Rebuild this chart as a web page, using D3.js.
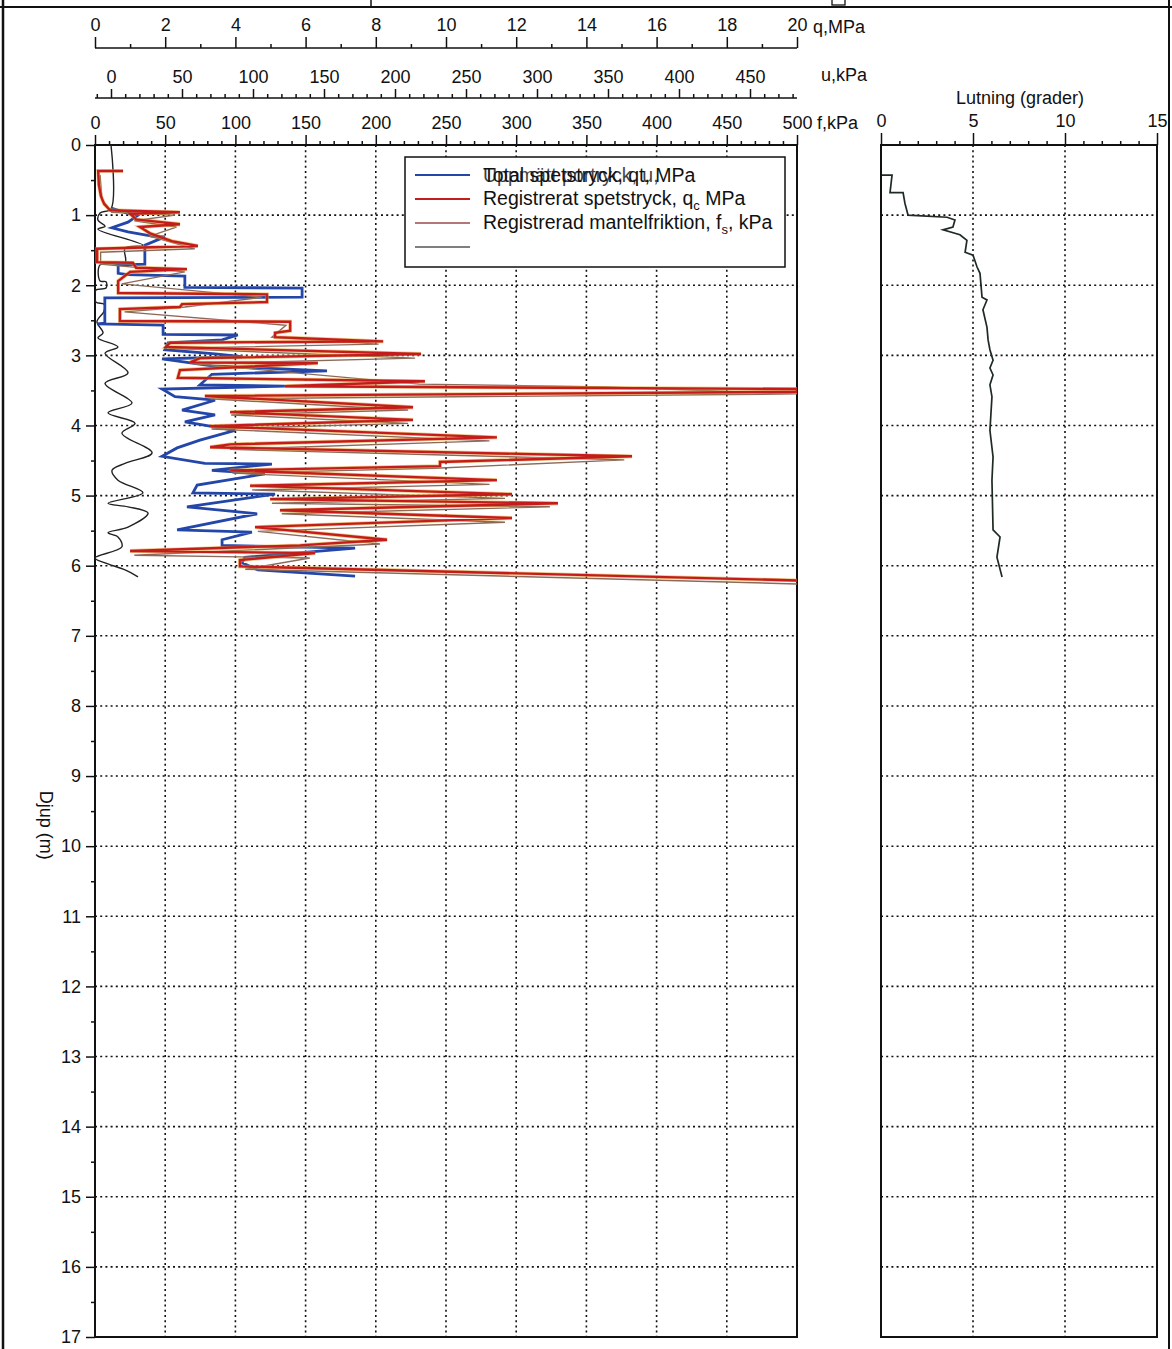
<!DOCTYPE html>
<html>
<head>
<meta charset="utf-8">
<title>CPT Djup</title>
<script src="https://cdn.jsdelivr.net/npm/d3@7"></script>
<style>
  body { margin: 0; background: #fff; }
  svg { display: block; font-family: "Liberation Sans", Arial, sans-serif; }
  .axis text { font-size: 18px; fill: #111; }
  .axis path, .axis line { stroke: #111; stroke-width: 1.5; }
  .grid line { stroke: #111; stroke-width: 1.6; stroke-dasharray: 2,3.2; }
  .unit { font-size: 18px; fill: #111; }
  .leg { font-size: 19.5px; fill: #111; }
</style>
</head>
<body>
<script>
// ---- data: [depth m, value] ----
const qtProfile = [[0.90,0.46],[0.96,0.85],[1.01,1.20],[1.10,0.94],[1.18,0.48],[1.24,0.94],[1.30,1.62],[1.31,1.99],
  [1.43,1.42],[1.70,1.42],[1.71,0.66],[1.83,0.66],[1.85,0.94],[1.87,2.56],[2.03,2.56],[2.04,5.90],[2.17,5.90],
  [2.18,0.28],[2.54,0.28],[2.55,0.06],[2.57,1.94],[2.70,1.94],[2.71,4.07],[2.78,3.62],[2.82,2.08],[2.92,1.99],
  [2.98,3.42],[3.02,4.19],[3.05,1.91],[3.15,3.33],[3.22,6.61],[3.27,3.33],[3.42,2.99],[3.44,5.41],[3.48,1.91],
  [3.59,2.28],[3.64,3.42],[3.78,2.48],[3.85,3.42],[3.95,2.56],[4.07,3.99],[4.21,2.99],[4.32,2.34],[4.44,1.91],
  [4.54,3.13],[4.55,5.04],[4.64,3.33],[4.69,4.84],[4.85,2.91],[4.96,2.79],[4.98,5.13],[5.16,2.62],[5.26,4.62],
  [5.49,2.34],[5.52,4.47],[5.63,3.62],[5.71,3.62],[5.75,7.41],[5.88,4.27],[5.96,4.19],[6.06,4.64],[6.15,7.41]];

const qcProfile = [[0.37,0.80],[0.37,0.09],[0.57,0.11],[0.73,0.17],[0.84,0.26],[0.93,0.43],[0.96,2.42],[0.98,1.00],
  [1.06,1.17],[1.13,2.42],[1.17,1.28],[1.26,1.57],[1.37,2.19],[1.44,2.93],[1.48,0.06],[1.67,0.06],[1.68,1.08],
  [1.75,1.17],[1.77,2.62],[1.81,1.00],[1.94,0.66],[2.11,0.66],[2.13,4.90],[2.24,4.90],[2.27,2.48],[2.31,2.42],
  [2.34,0.71],[2.51,0.71],[2.52,5.56],[2.65,5.56],[2.68,5.13],[2.74,5.13],[2.80,8.21],[2.82,2.14],[2.88,2.02],
  [2.98,9.29],[3.04,2.99],[3.10,2.71],[3.11,6.35],[3.21,2.42],[3.32,2.36],[3.37,9.40],[3.44,5.41],[3.48,20.0],
  [3.52,20.0],[3.58,3.13],[3.74,9.06],[3.81,3.85],[3.92,9.06],[4.01,3.28],[4.17,11.45],[4.27,3.85],[4.31,3.28],
  [4.44,15.30],[4.52,9.83],[4.58,9.83],[4.64,3.85],[4.78,11.45],[4.86,4.42],[4.98,11.88],[5.05,4.99],[5.11,13.19],
  [5.21,5.27],[5.32,11.88],[5.45,4.56],[5.63,8.32],[5.71,5.84],[5.79,1.00],[5.82,6.27],[5.92,4.13],[6.01,4.13],
  [6.21,20.0]];

const fsProfile = [[0.43,3.6],[0.78,5],[0.96,12],[1.00,57],[1.08,28],[1.17,58],[1.30,39],[1.48,71],[1.53,4],
  [1.70,4],[1.81,64],[1.98,19],[2.17,119],[2.31,64],[2.38,21],[2.57,136],[2.74,126],[2.84,202],[2.90,53],
  [3.04,228],[3.12,71],[3.41,231],[3.45,363],[3.55,500],[3.62,82],[3.78,223],[3.85,97],[3.97,223],[4.05,83],
  [4.22,281],[4.34,96],[4.49,377],[4.61,242],[4.68,98],[4.84,281],[4.92,112],[5.04,292],[5.11,126],[5.16,324],
  [5.26,133],[5.38,292],[5.51,116],[5.69,203],[5.85,28],[5.89,153],[6.05,107],[6.26,500]];

const uProfile = [[0,0],[0.91,0],[0.97,-7.7],[1.07,-9.2],[1.16,-4.2],[1.20,-9.2],[1.43,22.5],[1.47,9.9],[1.68,9.9],
  [1.71,-7.7],[1.94,-7.7],[1.95,-3.5],[2.04,-3.5],[2.07,-10.6],[2.24,-10.6],[2.27,-4.9],[2.37,-4.9],[2.52,-9.9],
  [2.68,-5.6],[2.75,-9.2],[2.88,4.9],[2.97,-4.2],[3.25,12.0],[3.40,-4.2],[3.68,14.8],[3.82,-2.1],[3.97,16.9],
  [4.11,7.7],[4.39,28.9],[4.54,9.9],[4.64,0.7],[4.78,4.9],[4.96,22.5],[5.11,-2.1],[5.16,12.0],[5.25,26.1],
  [5.45,12.0],[5.53,-2.1],[5.59,4.9],[5.73,7.7],[5.89,-11.3],[5.96,-4.2],[6.06,9.9],[6.16,19.0]];

const lutProfile = [[0.43,0.05],[0.43,0.60],[0.68,0.49],[0.68,1.20],[0.83,1.30],[1.00,1.47],[1.03,3.59],[1.07,4.02],
  [1.17,3.91],[1.21,3.37],[1.28,4.29],[1.36,4.67],[1.53,4.57],[1.57,5.00],[1.74,5.22],[1.83,5.38],[2.17,5.49],
  [2.21,5.76],[2.35,5.54],[2.60,5.76],[2.78,5.82],[2.92,5.92],[3.07,6.09],[3.18,5.92],[3.28,6.09],[3.42,5.92],
  [3.59,6.03],[4.07,5.92],[4.45,6.09],[4.78,6.03],[5.49,6.09],[5.59,6.47],[5.88,6.30],[6.16,6.58]];

const qTicks = d3.range(0, 21, 2);
const uTicks = d3.range(0, 451, 50);
const fTicks = d3.range(0, 501, 50);
const lutTicks = [0, 5, 10, 15];
const depthTicks = d3.range(0, 18, 1);

const legendLabels = ["Registrerat spetstryck, q", "Registrerad mantelfriktion, f"];

// ---- layout ----
const width = 1172, height = 1349;
const plotTop = 145, plotBottom = 1337;

const svg = d3.select("body").append("svg")
  .attr("width", width).attr("height", height);

const yScale = d3.scaleLinear().domain([0, 17]).range([plotTop, plotBottom]);
const qScale = d3.scaleLinear().domain([0, 20]).range([95, 797]);
const uScale = d3.scaleLinear().domain([0, 450]).range([111, 750]);
const fScale = d3.scaleLinear().domain([0, 500]).range([95, 797]);
const lScale = d3.scaleLinear().domain([0, 15]).range([881, 1157]);

// page frame
svg.append("line").attr("x1", 3).attr("x2", 3).attr("y1", 0).attr("y2", height)
  .attr("stroke", "#111").attr("stroke-width", 2.5);
svg.append("line").attr("x1", 1169).attr("x2", 1169).attr("y1", 0).attr("y2", height)
  .attr("stroke", "#111").attr("stroke-width", 2);
svg.append("line").attr("x1", 0).attr("x2", width).attr("y1", 7).attr("y2", 7)
  .attr("stroke", "#111").attr("stroke-width", 2);
svg.append("line").attr("x1", 371).attr("x2", 371).attr("y1", 0).attr("y2", 7)
  .attr("stroke", "#111").attr("stroke-width", 1.5);
svg.append("rect").attr("x", 832).attr("y", -4).attr("width", 13).attr("height", 9)
  .attr("fill", "none").attr("stroke", "#111").attr("stroke-width", 1.3);

// grids
const gridL = svg.append("g").attr("class", "grid");
gridL.selectAll(".v").data(fTicks.filter(d => d > 0 && d < 500)).enter().append("line")
  .attr("x1", d => fScale(d)).attr("x2", d => fScale(d)).attr("y1", plotTop).attr("y2", plotBottom);
gridL.selectAll(".h").data(depthTicks.filter(d => d > 0 && d < 17)).enter().append("line")
  .attr("x1", 95).attr("x2", 797).attr("y1", d => yScale(d)).attr("y2", d => yScale(d));

const gridR = svg.append("g").attr("class", "grid");
gridR.selectAll(".v").data([5, 10]).enter().append("line")
  .attr("x1", d => lScale(d)).attr("x2", d => lScale(d)).attr("y1", plotTop).attr("y2", plotBottom);
gridR.selectAll(".h").data(depthTicks.filter(d => d > 0 && d < 17)).enter().append("line")
  .attr("x1", 881).attr("x2", 1157).attr("y1", d => yScale(d)).attr("y2", d => yScale(d));

// top axes
function topAxis(scale, y, major, minor, majorLen, minorLen) {
  svg.append("g").attr("class", "axis").attr("transform", "translate(0," + y + ")")
    .call(d3.axisTop(scale).tickValues(minor).tickSize(minorLen).tickSizeOuter(0).tickFormat(""))
    .select(".domain").remove();
  const g = svg.append("g").attr("class", "axis").attr("transform", "translate(0," + y + ")")
    .call(d3.axisTop(scale).tickValues(major).tickSize(majorLen).tickSizeOuter(0).tickPadding(6));
  g.select(".domain").remove();
  return g;
}

topAxis(qScale, 48, qTicks, d3.range(1, 20, 2), 11, 4);
svg.append("line").attr("x1", 95).attr("x2", 797).attr("y1", 48).attr("y2", 48)
  .attr("stroke", "#111").attr("stroke-width", 1.5);

topAxis(uScale, 98, uTicks, d3.range(-10, 484, 10).filter(d => d % 50 !== 0), 9, 4);
svg.append("line").attr("x1", 95).attr("x2", 797).attr("y1", 98).attr("y2", 98)
  .attr("stroke", "#111").attr("stroke-width", 1.5);

topAxis(fScale, plotTop, fTicks, d3.range(10, 500, 10).filter(d => d % 50 !== 0), 10, 4);
topAxis(lScale, plotTop, lutTicks, d3.range(1, 15, 1).filter(d => d % 5 !== 0), 12, 4);

svg.append("text").attr("class", "unit").attr("x", 813).attr("y", 33).text("q,MPa");
svg.append("text").attr("class", "unit").attr("x", 821).attr("y", 81).text("u,kPa");
svg.append("text").attr("class", "unit").attr("x", 817).attr("y", 129).text("f,kPa");
svg.append("text").attr("class", "unit").attr("x", 1020).attr("y", 104)
  .attr("text-anchor", "middle").text("Lutning (grader)");

// depth axis
svg.append("g").attr("class", "axis").attr("transform", "translate(95,0)")
  .call(d3.axisLeft(yScale).tickValues(d3.range(0.5, 17, 1)).tickSize(4).tickSizeOuter(0).tickFormat(""))
  .select(".domain").remove();
svg.append("g").attr("class", "axis").attr("transform", "translate(95,0)")
  .call(d3.axisLeft(yScale).tickValues(depthTicks).tickSize(9).tickSizeOuter(0).tickPadding(5))
  .select(".domain").remove();

svg.append("text").attr("class", "unit")
  .attr("transform", "translate(40," + yScale(9.7) + ") rotate(90)")
  .attr("text-anchor", "middle").text("Djup (m)");

// plot frames
svg.append("rect").attr("x", 95).attr("y", plotTop).attr("width", 702).attr("height", plotBottom - plotTop)
  .attr("fill", "none").attr("stroke", "#111").attr("stroke-width", 2);
svg.append("rect").attr("x", 881).attr("y", plotTop).attr("width", 276).attr("height", plotBottom - plotTop)
  .attr("fill", "none").attr("stroke", "#111").attr("stroke-width", 2);

svg.append("clipPath").attr("id", "clipL").append("rect")
  .attr("x", 95).attr("y", plotTop).attr("width", 702).attr("height", plotBottom - plotTop);

const plot = svg.append("g").attr("clip-path", "url(#clipL)");

const lineQ = d3.line().x(d => qScale(d[1])).y(d => yScale(d[0]));
const lineF = d3.line().x(d => fScale(d[1])).y(d => yScale(d[0]));
const lineU = d3.line().x(d => uScale(d[1])).y(d => yScale(d[0])).curve(d3.curveCatmullRom);
const lineL = d3.line().x(d => lScale(d[1])).y(d => yScale(d[0]));

plot.append("path").datum(uProfile).attr("d", lineU)
  .attr("fill", "none").attr("stroke", "#222").attr("stroke-width", 1.4);
plot.append("path").datum(qtProfile).attr("d", lineQ)
  .attr("fill", "none").attr("stroke", "#2446a8").attr("stroke-width", 2.8);
plot.append("path").datum(fsProfile).attr("d", lineF)
  .attr("fill", "none").attr("stroke", "#8c6a5a").attr("stroke-width", 1.4);
plot.append("path").datum(qcProfile).attr("d", lineQ)
  .attr("fill", "none").attr("stroke", "#e0a030").attr("stroke-width", 3.8).attr("opacity", 0.6);
plot.append("path").datum(qcProfile).attr("d", lineQ)
  .attr("fill", "none").attr("stroke", "#c41c1c").attr("stroke-width", 2.4);

svg.append("path").datum(lutProfile).attr("d", lineL)
  .attr("fill", "none").attr("stroke", "#1e2a22").attr("stroke-width", 1.7);

// legend
const leg = svg.append("g").attr("transform", "translate(405,157)");
leg.append("rect").attr("width", 380).attr("height", 110)
  .attr("fill", "#fff").attr("stroke", "#111").attr("stroke-width", 1.5);
const legColors = ["#2446a8", "#c41c1c", "#9a4a4a", "#555"];
const legWidths = [2, 2, 1.3, 1.3];
leg.selectAll(".ll").data(legColors).enter().append("line")
  .attr("x1", 10).attr("x2", 65)
  .attr("y1", (d, i) => 18 + i * 24).attr("y2", (d, i) => 18 + i * 24)
  .attr("stroke", d => d).attr("stroke-width", (d, i) => legWidths[i]);

// two labels printed on top of each other, as in the original
leg.append("text").attr("class", "leg").attr("x", 78).attr("y", 25).text("Total spetstryck, qt, MPa");
leg.append("text").attr("class", "leg").attr("x", 78).attr("y", 25).attr("opacity", 0.8).text("Uppmätt portryck, u,");

const t2 = leg.append("text").attr("class", "leg").attr("x", 78).attr("y", 48);
t2.append("tspan").text(legendLabels[0]);
t2.append("tspan").attr("dy", 5).attr("font-size", 13).text("c");
t2.append("tspan").attr("dy", -5).text("  MPa");

const t3 = leg.append("text").attr("class", "leg").attr("x", 78).attr("y", 72);
t3.append("tspan").text(legendLabels[1]);
t3.append("tspan").attr("dy", 5).attr("font-size", 13).text("s");
t3.append("tspan").attr("dy", -5).text(", kPa");
</script>
</body>
</html>
